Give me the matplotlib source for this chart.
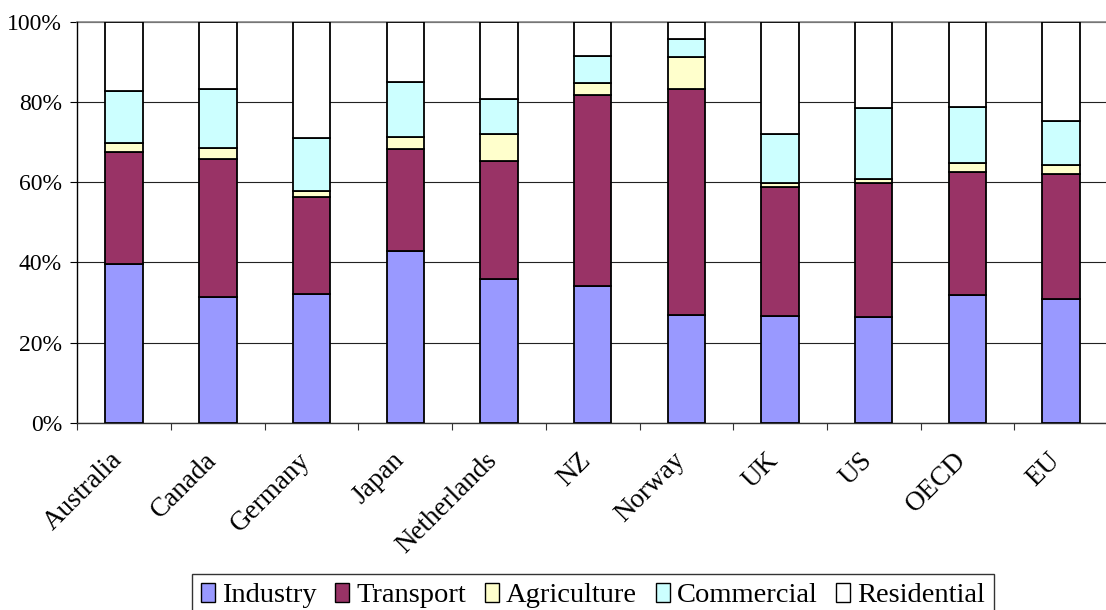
import numpy as np
import matplotlib
matplotlib.use("Agg")
import matplotlib.pyplot as plt
from matplotlib.ticker import FixedLocator, PercentFormatter
import matplotlib.transforms as mtransforms

plt.rcParams['font.family'] = ['Liberation Serif', 'DejaVu Serif']

# ── Data: share of final energy use by sector (%) ────────────────────────────
regions = ["Australia", "Canada", "Germany", "Japan", "Netherlands", "NZ",
           "Norway", "UK", "US", "OECD", "EU"]
sectors = ["Industry", "Transport", "Agriculture", "Commercial", "Residential"]

industry = [39.6, 31.4, 32.1, 42.9, 35.9, 34.2, 27.0, 26.7, 26.4, 31.9, 30.9]
transport = [27.9, 34.4, 24.3, 25.4, 29.4, 47.5, 56.3, 32.1, 33.4, 30.7, 31.1]
agriculture = [2.2, 2.8, 1.3, 3.1, 6.7, 3.2, 8.0, 1.0, 1.0, 2.2, 2.4]
commercial = [13.2, 14.6, 13.4, 13.6, 8.8, 6.5, 4.5, 12.2, 17.7, 14.1, 11.0]
residential = [17.1, 16.8, 28.9, 15.0, 19.2, 8.6, 4.2, 28.0, 21.5, 21.1, 24.6]

colors = ["#9999FF", "#993366", "#FFFFCC", "#CCFFFF", "#FFFFFF"]

# ── Figure ───────────────────────────────────────────────────────────────────
W, H = 1106, 610
fig = plt.figure(figsize=(W / 100, H / 100), dpi=100)
ax = fig.add_axes([77.3 / W, (H - 422.7) / H, (1108 - 77.3) / W, (422.7 - 22) / H])

x = np.arange(len(regions))
bottom = np.zeros(len(regions))
for name, vals, col in zip(sectors, [industry, transport, agriculture, commercial, residential], colors):
    ax.bar(x, vals, width=0.4, bottom=bottom, color=col, edgecolor="black",
           linewidth=1.3, label=name, zorder=3)
    bottom += np.array(vals)

ax.set_xlim(-0.5, len(regions) - 0.5)
ax.set_ylim(0, 100)

# y axis
ax.set_yticks(np.arange(0, 101, 20))
ax.yaxis.set_major_formatter(PercentFormatter(decimals=0))
ax.tick_params(axis="y", direction="out", length=5, width=0.8, pad=6,
               labelsize=17, color="black")
ax.yaxis.grid(True, color="#222222", linewidth=0.8, zorder=0)

# x axis: labels at bar centres, tick marks between categories
ax.set_xticks(x)
ax.set_xticklabels(regions, rotation=45, ha="right", va="top",
                   rotation_mode="anchor", fontsize=19.5)
ax.tick_params(axis="x", which="major", length=0, pad=18)
ax.xaxis.set_minor_locator(FixedLocator(np.arange(-0.5, len(regions), 1.0)))
ax.tick_params(axis="x", which="minor", direction="out", length=5, width=0.8,
               color="#333333")
offset = mtransforms.ScaledTranslation(-14 / 100, 0, fig.dpi_scale_trans)
for lbl in ax.get_xticklabels():
    lbl.set_transform(lbl.get_transform() + offset)

for side in ["top", "right"]:
    ax.spines[side].set_visible(False)
ax.spines["left"].set_linewidth(1.0)
ax.spines["bottom"].set_linewidth(1.0)
ax.spines["bottom"].set_color("#333333")

# top border line at 100%
ax.axhline(100, color="#888888", linewidth=1.2, zorder=2, clip_on=False)

leg = fig.legend(loc="upper center", bbox_to_anchor=(593 / W, (H - 574) / H),
                 ncol=5, fontsize=20.5, frameon=True, fancybox=False,
                 edgecolor="black", handlelength=0.5, handleheight=0.65,
                 handletextpad=0.25, columnspacing=0.65, borderpad=0.3,
                 borderaxespad=0)
leg.get_frame().set_linewidth(1.0)
for h in leg.legend_handles:
    h.set_linewidth(1.0)

fig.savefig("out.png", dpi=100)
